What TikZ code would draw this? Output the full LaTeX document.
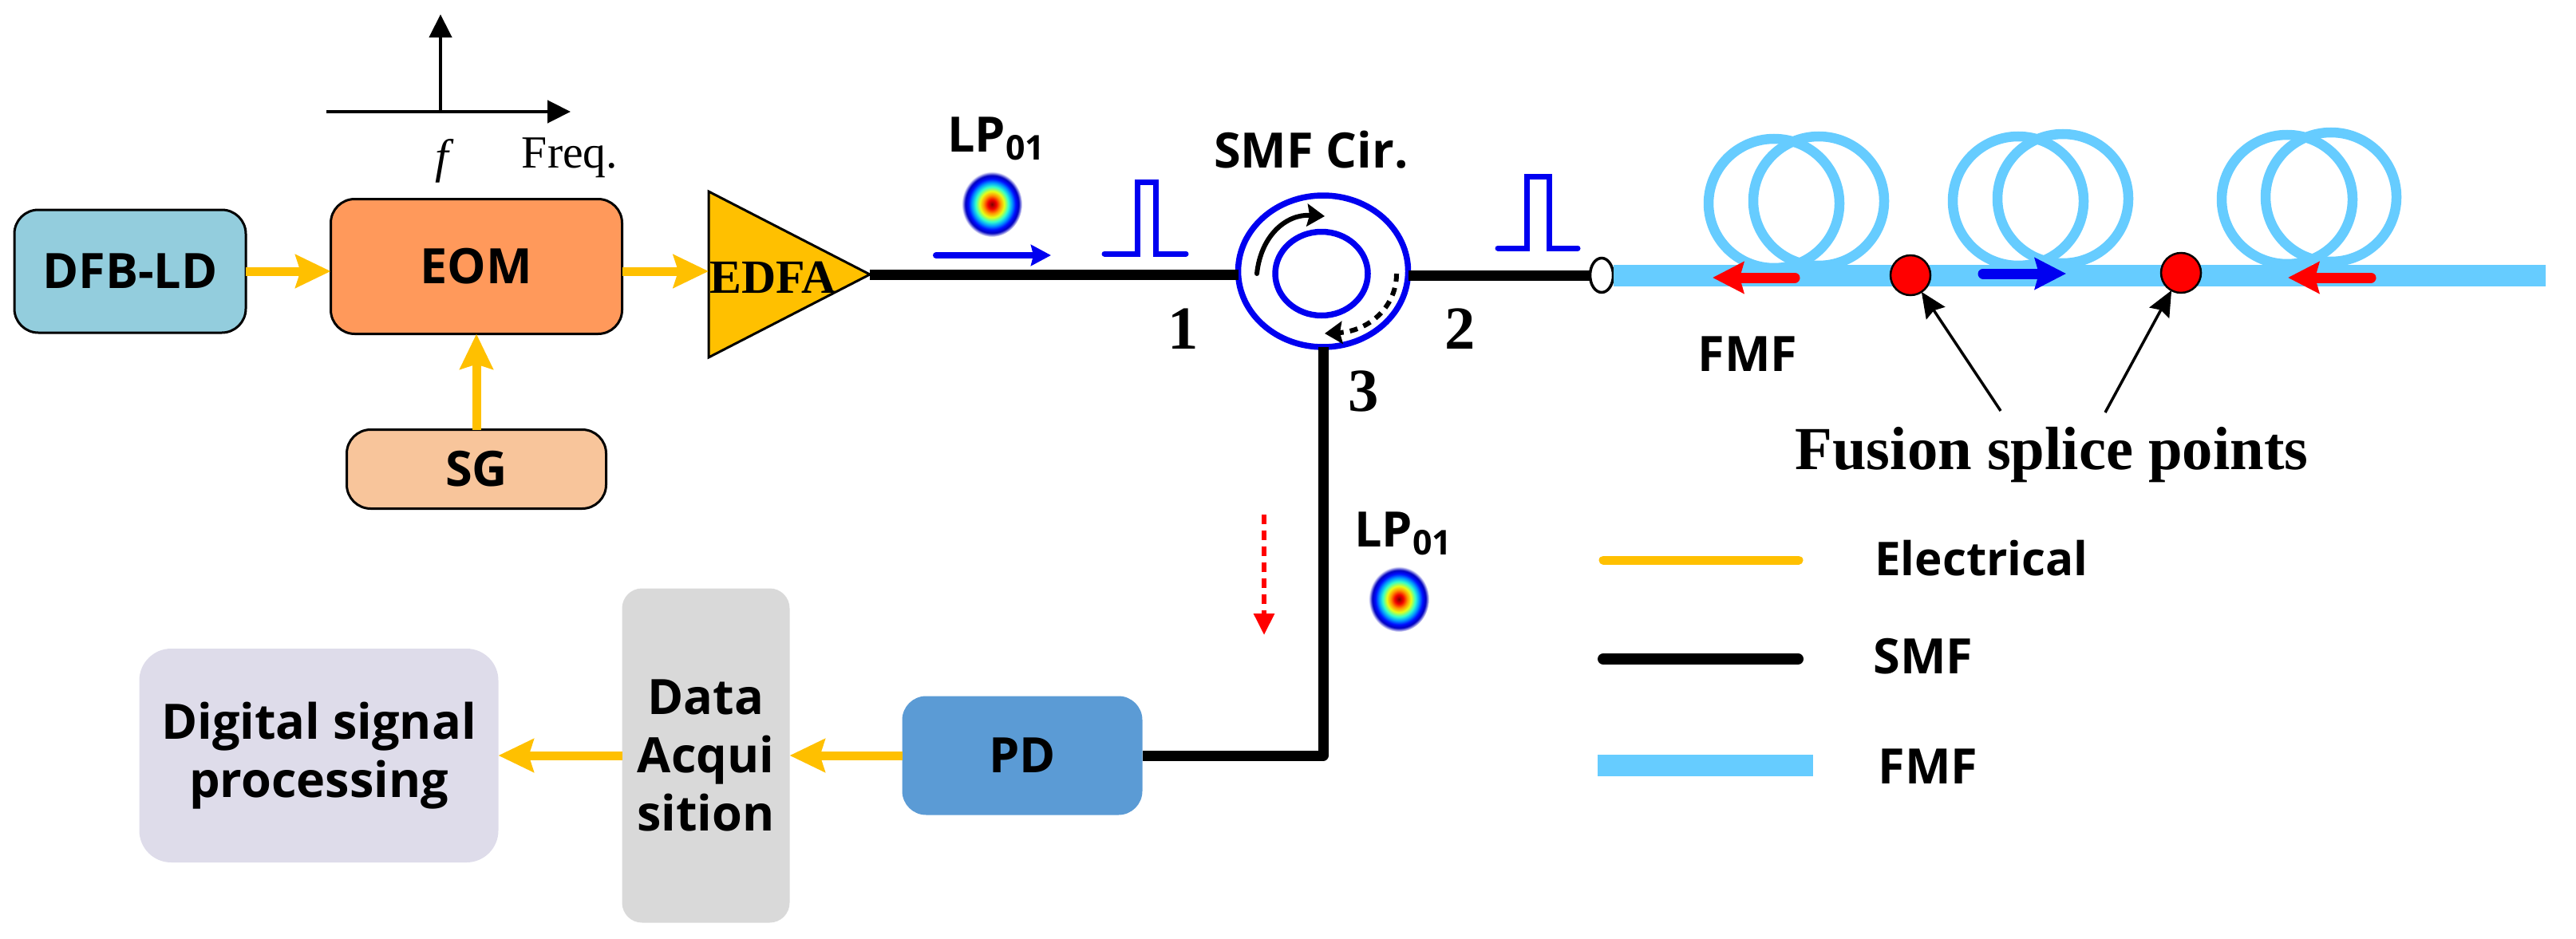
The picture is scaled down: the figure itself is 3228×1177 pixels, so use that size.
\documentclass[tikz,border=0pt]{standalone}
\usepackage{fontspec}
\setmainfont{Liberation Serif}
\setsansfont{Open Sans}
\usetikzlibrary{positioning, arrows.meta, shapes.geometric}
\definecolor{elecyellow}{HTML}{FFC000}
\definecolor{fmfblue}{HTML}{66CCFF}
\definecolor{ringblue}{HTML}{0000F0}
\definecolor{dfbfill}{HTML}{93CDDD}
\definecolor{eomfill}{HTML}{FF995B}
\definecolor{sgfill}{HTML}{F8C59B}
\definecolor{pdfill}{HTML}{5B9BD5}
\definecolor{daqfill}{HTML}{D9D9D9}
\definecolor{dspfill}{HTML}{DEDCEA}
\pgfdeclareradialshading{modespot}{\pgfpoint{0bp}{0bp}}{rgb(0bp)=(0.5,0,0); rgb(3.5bp)=(0.95,0,0); rgb(7bp)=(1,0.6,0); rgb(10bp)=(0.9,1,0.1); rgb(13.5bp)=(0.2,1,0.8); rgb(16.5bp)=(0,0.6,1); rgb(19.5bp)=(0,0.05,1); rgb(22bp)=(0,0,0.75); rgb(25bp)=(1,1,1); rgb(50bp)=(1,1,1)}
\tikzset{
    blockbox/.style={rectangle, rounded corners=3mm, inner sep=0pt, outer sep=0pt, align=center, font=\sffamily\bfseries\fontsize{17.4}{20.8}\selectfont},
    sanslabel/.style={inner sep=0pt, outer sep=0pt, align=center, font=\sffamily\bfseries\fontsize{17.4}{20.8}\selectfont},
    seriflabel/.style={inner sep=0pt, outer sep=0pt, font=\rmfamily\bfseries\fontsize{21.8}{24}\selectfont},
    spectrumlabel/.style={inner sep=0pt, outer sep=0pt, font=\rmfamily\fontsize{16.4}{18}\selectfont},
    elec/.style={elecyellow, line width=1.1mm, -{Stealth[length=4.4mm, width=4.1mm, inset=0.6mm]}},
    smf/.style={black, line width=1.3mm, line join=round},
    fmf/.style={fmfblue, line width=2.7mm},
    fmfloop/.style={ellipse, draw=fmfblue, line width=1.25mm, minimum width=16.4mm, minimum height=16.2mm, inner sep=0pt, outer sep=0pt},
    dirarrow/.style={line width=1.3mm, line cap=round, -{Stealth[length=3.9mm, width=3.9mm, inset=0.5mm]}},
    pulseline/.style={ringblue, line width=0.7mm, line cap=round},
    splice/.style={circle, fill=red, draw=black, line width=0.25mm, minimum size=5mm, inner sep=0pt, outer sep=0pt},
    spot/.style={ellipse, shading=modespot, minimum width=7.6mm, minimum height=8.2mm, inner sep=0pt, outer sep=0pt},
    pointer/.style={black, line width=0.35mm, -{Stealth[length=3.2mm, width=2.8mm, inset=0.4mm]}},
    axisline/.style={black, line width=0.45mm, -{Stealth[length=2.9mm, width=2.8mm, inset=0mm]}}
}
\begin{document}
\begin{tikzpicture}[x=0.1mm, y=-0.1mm, >=Stealth]
            \useasboundingbox (0,0) rectangle (3228,1177);
            \node [blockbox, draw, line width=0.3mm, fill=dfbfill, minimum width=29mm, minimum height=15.4mm] (dfb) at (163,340) {DFB-LD};
            \node [blockbox, draw, line width=0.3mm, fill=eomfill, minimum width=36.5mm, minimum height=16.9mm] (eom) at (597,334) {EOM};
            \node [blockbox, draw, line width=0.3mm, fill=sgfill, minimum width=32.5mm, minimum height=9.9mm, below=12mm of eom] (sg) {SG};
            \node [isosceles triangle, isosceles triangle stretches, draw, line width=0.3mm, fill=elecyellow, minimum width=20.8mm, minimum height=20.2mm, inner sep=0pt, outer sep=0pt, anchor=lower side] (edfa) at (888,344) {};
            \node [seriflabel, font=\rmfamily\bfseries\fontsize{17}{20}\selectfont] (edfalabel) at (969,348) {EDFA};
            \coordinate (freqstart) at (409,140);
            \coordinate (freqend) at (715,140);
            \coordinate (peakbase) at (552,140);
            \coordinate (peaktop) at (552,18);
            \node [spectrumlabel, font=\rmfamily\itshape\fontsize{17}{18}\selectfont] (flabel) at (554,202) {f};
            \node [spectrumlabel] (freqlabel) at (714,198) {Freq.};
            \node [sanslabel] (lpin) at (1249,174) {LP\textsubscript{01}};
            \node [spot] (spotin) at (1243,256) {};
            \node [sanslabel] (cirlabel) at (1643,188) {SMF Cir.};
            \node [ellipse, draw=ringblue, line width=0.75mm, minimum width=21.3mm, minimum height=19mm, inner sep=0pt, outer sep=0pt] (cirouter) at (1658,340) {};
            \node [ellipse, draw=ringblue, line width=0.75mm, minimum width=11.6mm, minimum height=10.5mm, inner sep=0pt, outer sep=0pt] (cirinner) at (1656,343) {};
            \node [seriflabel] (port1) at (1483,412) {1};
            \node [seriflabel] (port2) at (1830,412) {2};
            \node [seriflabel] (port3) at (1709,491) {3};
            \node [ellipse, draw, fill=white, line width=0.35mm, minimum width=2.9mm, minimum height=4.3mm, inner sep=0pt, outer sep=0pt] (conn) at (2007,345) {};
            \node [fmfloop] (loop1a) at (2223,255) {};
            \node [fmfloop] (loop1b) at (2279,252) {};
            \node [fmfloop] (loop2a) at (2529,252) {};
            \node [fmfloop] (loop2b) at (2585,249) {};
            \node [fmfloop] (loop3a) at (2866,250) {};
            \node [fmfloop] (loop3b) at (2921,247) {};
            \coordinate (fmfend) at (3190,346);
            \draw [fmf] (conn.east) -- (conn.east -| fmfend);
            \node [splice] (splice1) at (2394,345) {};
            \node [splice] (splice2) at (2733,342) {};
            \node [sanslabel] (fmflabel) at (2190,444) {FMF};
            \node [seriflabel] (splicelabel) at (2571,570) {Fusion splice points};
            \coordinate (pointer1) at (2507,515);
            \coordinate (pointer2) at (2638,517);
            \node [blockbox, fill=pdfill, minimum width=30.1mm, minimum height=14.9mm] (pd) at (1281,947) {PD};
            \node [blockbox, fill=daqfill, rounded corners=2.5mm, minimum width=21mm, minimum height=41.9mm, left=14.1mm of pd] (daq) {Data\\Acqui\\sition};
            \node [blockbox, fill=dspfill, rounded corners=4mm, minimum width=45mm, minimum height=26.8mm, left=15.5mm of daq] (dsp) {Digital signal\\processing};
            \node [sanslabel] (lpout) at (1759,669) {LP\textsubscript{01}};
            \node [spot] (spotout) at (1753,751) {};
            \coordinate (dashstart) at (1584,645);
            \coordinate (dashend) at (1584,796);
            \coordinate (legelec1) at (2009,702);
            \coordinate (legelec2) at (2254,702);
            \coordinate (legsmf1) at (2009,826);
            \coordinate (legsmf2) at (2253,826);
            \coordinate (legfmf1) at (2002,959);
            \coordinate (legfmf2) at (2272,959);
            \node [sanslabel, font=\sffamily\bfseries\fontsize{16.6}{20}\selectfont] (legelectext) at (2483,700) {Electrical};
            \node [sanslabel] (legsmftext) at (2410,823) {SMF};
            \node [sanslabel] (legfmftext) at (2416,961) {FMF};
            \draw [axisline] (freqstart) -- (freqend);
            \draw [axisline] (peakbase) -- (peaktop);
            \draw [elec] (dfb.east) -- (dfb.east -| eom.west);
            \draw [elec] (dfb.east -| eom.east) -- (dfb.east -| edfa.lower side);
            \draw [elec] (sg.north) -- (eom.south);
            \draw [elec] (pd.west) -- (daq.east);
            \draw [elec] (daq.west) -- (dsp.east);
            \draw [smf] (edfa.apex) -- (edfa.apex -| cirouter.west);
            \draw [smf] (conn.west -| cirouter.east) -- (conn.west);
            \draw [smf] (cirouter.south) -- (cirouter.south |- pd.east) -- (pd.east);
            \draw [pointer] (pointer1) -- (splice1);
            \draw [pointer] (pointer2) -- (splice2);
            \draw [elecyellow, line width=1.1mm, line cap=round] (legelec1) -- (legelec2);
            \draw [smf, line width=1.4mm, line cap=round] (legsmf1) -- (legsmf2);
            \draw [fmf] (legfmf1) -- (legfmf2);
            \draw [red, line width=0.6mm, dash pattern=on 1.2mm off 0.8mm, -{Stealth[length=2.7mm, width=2.5mm, inset=0mm]}] (dashstart) -- (dashend);
            \draw [ringblue, line width=0.8mm, line cap=round, -{Stealth[length=2.5mm, width=2.6mm, inset=0.3mm]}] (1173,320) -- (1317,320);
            \draw [pulseline] (1384,318) -- ++(41,0) -- ++(0,-90) -- ++(23,0) -- ++(0,90) -- ++(38,0);
            \draw [pulseline] (1877,311) -- ++(36,0) -- ++(0,-90) -- ++(28,0) -- ++(0,90) -- ++(36,0);
            \draw [black, line width=0.6mm, line cap=round, -{Stealth[length=2.2mm, width=2.8mm, inset=0.3mm]}] (1575,343) .. controls (1580,295) and (1612,268) .. (1660,271);
            \draw [black, line width=0.6mm, dash pattern=on 1mm off 0.8mm, -{Stealth[length=2.2mm, width=2.8mm, inset=0.3mm]}] (1750,343) .. controls (1750,385) and (1715,415) .. (1660,418);
            \draw [dirarrow, red] (2249,348) -- (2146,348);
            \draw [dirarrow, ringblue] (2485,343) -- (2589,343);
            \draw [dirarrow, red] (2971,348) -- (2867,348);
        \end{tikzpicture}
\end{document}
